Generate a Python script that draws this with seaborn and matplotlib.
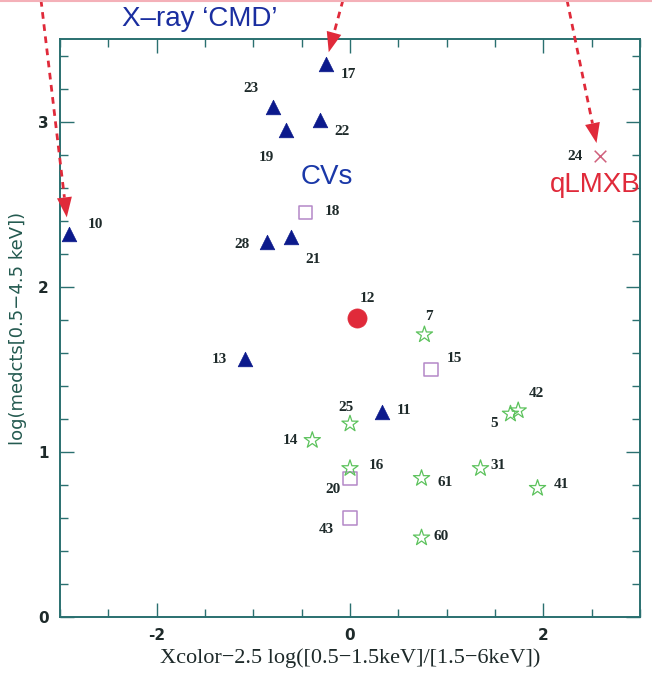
import matplotlib
matplotlib.use("Agg")
import matplotlib.pyplot as plt
from matplotlib.ticker import MultipleLocator
from matplotlib.patches import Polygon
import numpy as np
import pandas as pd
import seaborn as sns

# Source catalogue: X-ray colour vs log median counts, by source class
cv_ids = ["17", "23", "22", "19", "10", "28", "21", "13", "11"]
cv_x = [-0.25, -0.80, -0.31, -0.66, -2.91, -0.86, -0.61, -1.09, 0.33]
cv_y = [3.35, 3.09, 3.01, 2.95, 2.32, 2.27, 2.30, 1.56, 1.24]

sq_ids = ["18", "15", "20", "43"]
sq_x = [-0.46, 0.84, 0.00, 0.00]
sq_y = [2.45, 1.50, 0.84, 0.60]

dot_ids = ["12"]
dot_x = [0.07]
dot_y = [1.81]

lmxb_ids = ["24"]
lmxb_x = [2.59]
lmxb_y = [2.79]

star_ids = ["7", "25", "14", "16", "61", "31", "5", "42", "41", "60"]
star_x = [0.77, 0.00, -0.39, 0.00, 0.74, 1.35, 1.66, 1.74, 1.94, 0.74]
star_y = [1.71, 1.17, 1.07, 0.90, 0.84, 0.90, 1.23, 1.25, 0.78, 0.48]

# label offsets in points (dx, dy) for each source id
label_offsets = {
    "17": (16, -8), "23": (-16, 13), "22": (16, -8), "19": (-14, -20),
    "10": (19, 7), "28": (-18, -2), "21": (16, -16), "13": (-18, 0),
    "11": (16, 1), "18": (19, 1), "15": (17, 8), "20": (-12, -8),
    "43": (-17, -8), "12": (8, 14), "24": (-18, 0), "7": (3, 13),
    "25": (-3, 12), "14": (-16, 0), "16": (19, 2), "61": (17, -3),
    "31": (13, 2), "5": (-12, -7), "42": (13, 12), "41": (17, 3),
    "60": (14, 1),
}

# pointer arrows: tip (data units) and start at the top edge (figure pixels x)
arrow_tip_x = [-2.93, -0.22, 2.55]
arrow_tip_y = [2.42, 3.42, 2.87]
arrow_start_px = [41, 343, 567]

cv = pd.DataFrame({"id": cv_ids, "x": cv_x, "y": cv_y})
sq = pd.DataFrame({"id": sq_ids, "x": sq_x, "y": sq_y})
dot = pd.DataFrame({"id": dot_ids, "x": dot_x, "y": dot_y})
lmxb = pd.DataFrame({"id": lmxb_ids, "x": lmxb_x, "y": lmxb_y})
star = pd.DataFrame({"id": star_ids, "x": star_x, "y": star_y})

sns.set_theme(style="white")
plt.rcParams["font.family"] = ["DejaVu Sans"]
plt.rcParams["axes.unicode_minus"] = False

axis_col = "#2a7070"
navy = "#0c1a8c"
red = "#e02a3a"
green = "#5cc25c"
purple = "#b488c8"
pink = "#d0607c"
ink = "#1e2a2a"

W, H = 652, 676
fig = plt.figure(figsize=(W / 100, H / 100), dpi=100)
ax = fig.add_axes([60 / W, 1 - 617 / H, 580 / W, 578 / H])

sns.scatterplot(data=cv, x="x", y="y", marker="^", s=110, color=navy,
                edgecolor=navy, linewidth=0.5, ax=ax, zorder=3)
sns.scatterplot(data=sq, x="x", y="y", marker="s", s=95, facecolor="none",
                edgecolor=purple, linewidth=1.1, ax=ax, zorder=3)
sns.scatterplot(data=dot, x="x", y="y", marker="o", s=190, color=red,
                edgecolor=red, linewidth=0.5, ax=ax, zorder=3)
sns.scatterplot(data=lmxb, x="x", y="y", marker="x", s=70, color=pink,
                linewidth=1.1, ax=ax, zorder=3)
sns.scatterplot(data=star, x="x", y="y", marker="*", s=150, facecolor="none",
                edgecolor=green, linewidth=0.9, ax=ax, zorder=3)

for df in (cv, sq, dot, lmxb, star):
    for _, r in df.iterrows():
        dx, dy = label_offsets[r["id"]]
        ax.annotate(r["id"], (r["x"], r["y"]), xytext=(dx, dy),
                    textcoords="offset points", ha="center", va="center",
                    fontsize=11, fontweight="bold", family="Liberation Serif",
                    color=ink)

ax.set_xlim(-3, 3)
ax.set_ylim(0, 3.5)
ax.xaxis.set_major_locator(MultipleLocator(2))
ax.xaxis.set_minor_locator(MultipleLocator(0.5))
ax.yaxis.set_major_locator(MultipleLocator(1))
ax.yaxis.set_minor_locator(MultipleLocator(0.2))
ax.tick_params(which="both", direction="in", top=True, right=True,
               bottom=True, left=True, colors=axis_col, labelcolor=ink)
ax.tick_params(which="major", length=10, width=1.0, labelsize=11, pad=8)
ax.tick_params(which="minor", length=6, width=1.0)
for lab in ax.get_xticklabels() + ax.get_yticklabels():
    lab.set_fontweight("bold")
for sp in ax.spines.values():
    sp.set_color(axis_col)
    sp.set_linewidth(1.4)
    sp.set_visible(True)

ax.set_xlabel("Xcolor\u22122.5 log([0.5\u22121.5keV]/[1.5\u22126keV])",
              family="Liberation Serif", fontsize=16, color=ink)
ax.xaxis.set_label_coords(0.5, (617 - 648) / 578)
ax.set_ylabel("log(medcts[0.5\u22124.5 keV])", fontsize=13, color="#245a50")
ax.yaxis.set_label_coords((27 - 60) / 580, 0.5)

fig.text(200 / W, 1 - 19 / H, "X\u2013ray \u2018CMD\u2019", color="#1a2ea0",
         fontsize=20, ha="center", va="center", family="Liberation Sans")
fig.text(327 / W, 1 - 177 / H, "CVs", color="#1a38a8", fontsize=20,
         ha="center", va="center", family="Liberation Sans")
fig.text(595 / W, 1 - 185 / H, "qLMXB", color=red, fontsize=20,
         ha="center", va="center", family="Liberation Sans")

# dashed pointers coming in from above the frame, with solid heads
fig.canvas.draw()
to_px = ax.transData
from_px = ax.transData.inverted()
head_len, head_half = 20.0, 7.5
for tx, ty, sxp in zip(arrow_tip_x, arrow_tip_y, arrow_start_px):
    tip = np.array(to_px.transform((tx, ty)))
    start = np.array([sxp, H])
    d = tip - start
    d = d / np.hypot(*d)
    nrm = np.array([-d[1], d[0]])
    base = tip - d * head_len
    line = from_px.transform(np.vstack([start, base]))
    ax.plot(line[:, 0], line[:, 1], color=red, lw=2.0,
            linestyle=(0, (2.4, 2.0)), clip_on=False, zorder=4)
    head = from_px.transform(np.vstack([tip, base + nrm * head_half,
                                        base - nrm * head_half]))
    ax.add_patch(Polygon(head, closed=True, color=red, clip_on=False,
                         zorder=4, lw=0))

# thin pink rule along the top edge of the page
fig.add_artist(plt.Line2D([0, 1], [0.999, 0.999], transform=fig.transFigure,
                          color="#f4b0b8", lw=1.5))

fig.savefig("out.png", dpi=100)
